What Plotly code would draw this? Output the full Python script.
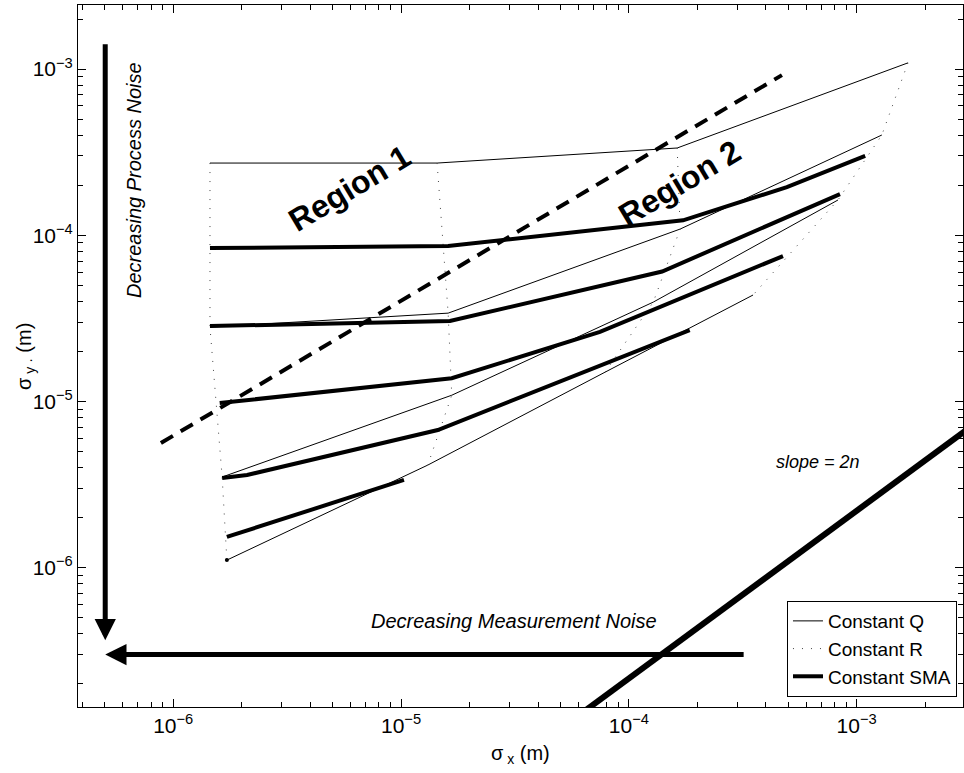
import numpy as np
import plotly.graph_objects as go

# ---- constant-Q curves (thin solid), points ordered along increasing R ----
q1_x = [1.45e-6, 1.44e-5, 1.63e-4, 1.68e-3]
q1_y = [2.72e-4, 2.72e-4, 3.35e-4, 1.09e-3]
q2_x = [1.45e-6, 1.61e-5, 1.68e-4, 1.29e-3]
q2_y = [2.80e-5, 3.40e-5, 1.09e-4, 4.01e-4]
q3_x = [1.64e-6, 1.67e-5, 1.28e-4, 8.28e-4]
q3_y = [3.51e-6, 1.09e-5, 3.96e-5, 1.63e-4]
q4_x = [1.72e-6, 1.31e-5, 7.86e-5, 3.51e-4]
q4_y = [1.11e-6, 4.14e-6, 1.50e-5, 4.37e-5]

# ---- constant-SMA curves (thick solid) ----
sma1_x = [1.45e-6, 1.61e-5, 1.73e-4, 4.94e-4, 1.09e-3]
sma1_y = [8.37e-5, 8.61e-5, 1.23e-4, 1.95e-4, 3.00e-4]
sma2_x = [1.45e-6, 1.64e-5, 1.40e-4, 8.45e-4]
sma2_y = [2.84e-5, 3.05e-5, 6.05e-5, 1.77e-4]
sma3_x = [1.60e-6, 1.67e-5, 7.47e-5, 4.75e-4]
sma3_y = [9.78e-6, 1.38e-5, 2.62e-5, 7.50e-5]
sma4_x = [1.64e-6, 2.11e-6, 1.45e-5, 1.85e-4]
sma4_y = [3.46e-6, 3.61e-6, 6.73e-6, 2.69e-5]
sma5_x = [1.72e-6, 1.03e-5]
sma5_y = [1.53e-6, 3.37e-6]

# ---- region boundary (dashed) and slope = 2n line ----
boundary_x = [8.83e-7, 4.70e-4]
boundary_y = [5.62e-6, 9.20e-4]
slope_x = [5.0e-5, 4.0e-3]
slope_y = [1.07e-7, 8.9e-6]

# ---- arrows (tail, tip) ----
process_arrow_x = [5.03e-7, 5.03e-7]
process_arrow_y = [1.44e-3, 3.66e-7]
meas_arrow_x = [3.24e-4, 5.03e-7]
meas_arrow_y = [3.0e-7, 3.0e-7]

# ---- axes ----
x_range = [3.82e-7, 2.93e-3]
y_range = [1.45e-7, 2.43e-3]
x_major = [1e-6, 1e-5, 1e-4, 1e-3]
x_major_text = ["10<sup>−6</sup>", "10<sup>−5</sup>", "10<sup>−4</sup>", "10<sup>−3</sup>"]
y_major = [1e-6, 1e-5, 1e-4, 1e-3]
y_major_text = ["10<sup>−6</sup>", "10<sup>−5</sup>", "10<sup>−4</sup>", "10<sup>−3</sup>"]

FONT = "Liberation Sans, Arial, Helvetica, sans-serif"

q_lines = [(q1_x, q1_y), (q2_x, q2_y), (q3_x, q3_y), (q4_x, q4_y)]
sma_lines = [(sma1_x, sma1_y), (sma2_x, sma2_y), (sma3_x, sma3_y),
             (sma4_x, sma4_y), (sma5_x, sma5_y)]

fig = go.Figure()

for i, (xs, ys) in enumerate(q_lines):
    fig.add_trace(go.Scatter(x=xs, y=ys, mode="lines", name="Constant Q",
                             legendgroup="q", showlegend=(i == 0),
                             line=dict(color="black", width=1)))

# constant-R curves: one through the j-th point of every Q curve
for j in range(4):
    rx = [xs[j] for xs, _ in q_lines]
    ry = [ys[j] for _, ys in q_lines]
    fig.add_trace(go.Scatter(x=rx, y=ry, mode="lines", name="Constant R",
                             legendgroup="r", showlegend=(j == 0),
                             line=dict(color="#444444", width=1, dash="1px,8px")))

fig.add_trace(go.Scatter(x=[q4_x[0]], y=[q4_y[0]], mode="markers", showlegend=False,
                         marker=dict(color="black", size=4)))

for i, (xs, ys) in enumerate(sma_lines):
    fig.add_trace(go.Scatter(x=xs, y=ys, mode="lines", name="Constant SMA",
                             legendgroup="s", showlegend=(i == 0),
                             line=dict(color="black", width=4)))

fig.add_trace(go.Scatter(x=boundary_x, y=boundary_y, mode="lines", showlegend=False,
                         line=dict(color="black", width=4, dash="14px,9px")))
fig.add_trace(go.Scatter(x=slope_x, y=slope_y, mode="lines", showlegend=False,
                         line=dict(color="black", width=6)))

L = np.log10


def txt(x, y, text, size, angle=0):
    return dict(x=x, y=y, xref="paper", yref="paper", text=text, textangle=angle,
                xanchor="center", yanchor="middle", showarrow=False,
                font=dict(size=size, family=FONT, color="black"))


annotations = [
    dict(x=L(process_arrow_x[1]), y=L(process_arrow_y[1]), ax=L(process_arrow_x[0]),
         ay=L(process_arrow_y[0]), xref="x", yref="y", axref="x", ayref="y",
         text="", showarrow=True, arrowhead=2, arrowsize=0.85, arrowwidth=5,
         arrowcolor="black", standoff=0),
    dict(x=L(meas_arrow_x[1]), y=L(meas_arrow_y[1]), ax=L(meas_arrow_x[0]),
         ay=L(meas_arrow_y[0]), xref="x", yref="y", axref="x", ayref="y",
         text="", showarrow=True, arrowhead=2, arrowsize=0.85, arrowwidth=5,
         arrowcolor="black", standoff=0),
    txt(0.0633, 0.7507, "<i>Decreasing Process Noise</i>", 20, -90),
    txt(0.4927, 0.1225, "<i>Decreasing Measurement Noise</i>", 20),
    txt(0.8362, 0.349, "<i>slope = 2n</i>", 18),
    txt(0.3073, 0.7393, "<b>Region 1</b>", 32, -31),
    txt(0.680, 0.7464, "<b>Region 2</b>", 32, -31),
    txt(0.5, -0.068, "σ<sub> x</sub> (m)", 20),
    txt(-0.0599, 0.5, "σ<sub> y ·</sub> (m)", 20, -90),
]


def minor_vals(lo, hi):
    vals = []
    for e in range(-8, 0):
        for m in range(2, 10):
            v = m * 10.0 ** e
            if lo < v < hi:
                vals.append(v)
    return vals


axis_common = dict(type="log", showgrid=False, zeroline=False, showline=True,
                   linecolor="black", linewidth=1, mirror="ticks", ticks="inside",
                   ticklen=8, tickwidth=1, tickcolor="black", tickmode="array",
                   automargin=False,
                   tickfont=dict(size=21, family=FONT, color="black"))

fig.update_xaxes(**axis_common, range=[L(x_range[0]), L(x_range[1])],
                 tickvals=x_major, ticktext=x_major_text,
                 minor=dict(tickvals=minor_vals(*x_range), ticks="inside", ticklen=5,
                            tickcolor="black", showgrid=False))
fig.update_yaxes(**axis_common, range=[L(y_range[0]), L(y_range[1])],
                 tickvals=y_major, ticktext=y_major_text,
                 minor=dict(tickvals=minor_vals(*y_range), ticks="inside", ticklen=5,
                            tickcolor="black", showgrid=False))

fig.update_layout(
    width=964, height=773,
    margin=dict(l=78, r=1, t=5, b=66),
    paper_bgcolor="white", plot_bgcolor="white",
    font=dict(family=FONT, color="black", size=20),
    annotations=annotations,
    legend=dict(x=0.9932, y=0.0142, xanchor="right", yanchor="bottom",
                bgcolor="white", bordercolor="black", borderwidth=1,
                font=dict(size=19, family=FONT, color="black"),
                tracegroupgap=0),
)

fig.write_html(
    "out.html",
    config={"displayModeBar": False},
    post_script="document.body.style.margin='0';document.body.style.padding='0';"
                "document.body.style.overflow='hidden';",
)
